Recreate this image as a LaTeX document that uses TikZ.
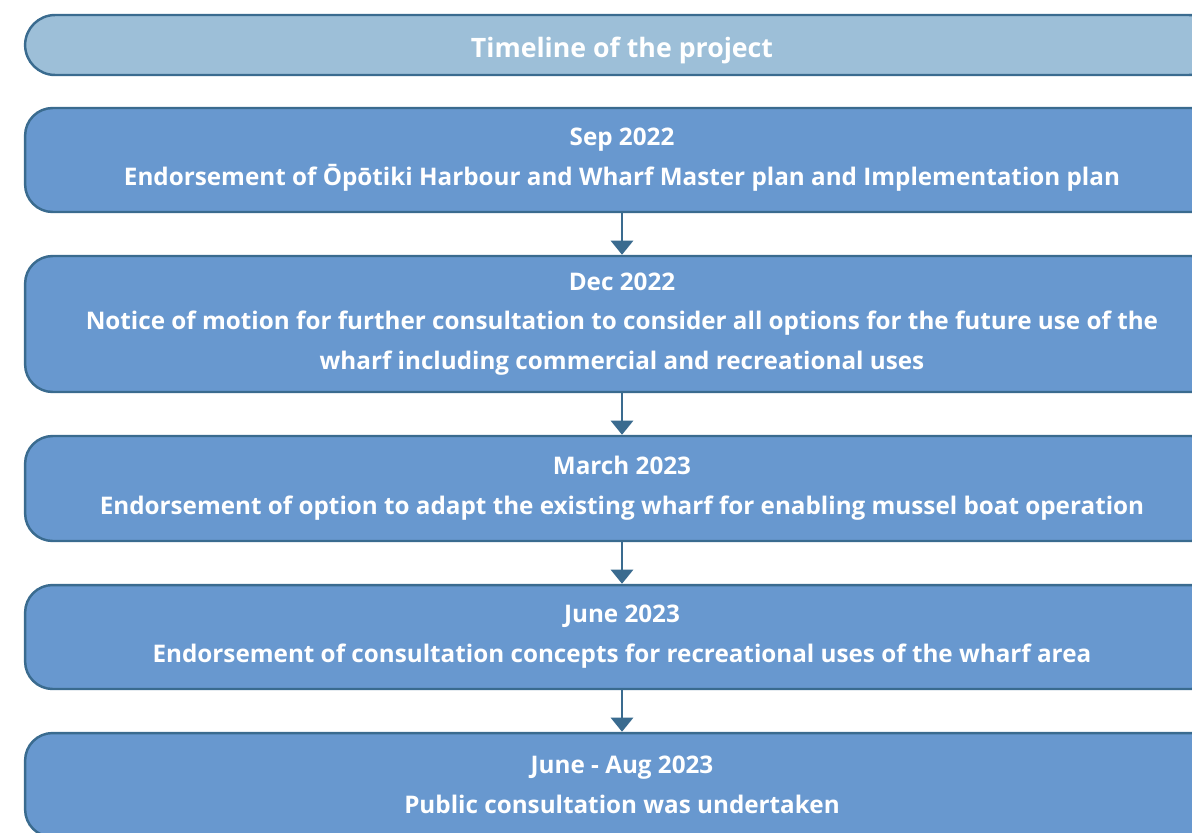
\documentclass[tikz,border=0pt]{standalone}
\usepackage{fontspec}
\setmainfont{Open Sans}
\usetikzlibrary{arrows.meta}
\definecolor{edgeblue}{HTML}{3A6B8F}
\definecolor{stepfill}{HTML}{6898CF}
\definecolor{headfill}{HTML}{9DBFD8}
\begin{document}
\begin{tikzpicture}[x=0.02cm,y=-0.02cm]
        \tikzstyle{stage}=[draw=edgeblue, line width=1.4pt, fill=stepfill, rounded corners=0.55cm, minimum width=23.88cm, inner sep=0pt, text=white, align=center, font=\bfseries\fontsize{13.8}{22.7}\selectfont]
        \tikzstyle{head}=[stage, fill=headfill, rounded corners=0.6cm, font=\bfseries\fontsize{15.2}{18}\selectfont]
        \tikzstyle{link}=[edgeblue, line width=1.6pt, -{Triangle[width=12.5pt,length=8pt]}]
        \useasboundingbox (0,0) rectangle (1192,832);
        \clip (0,0) rectangle (1192,832);
        % title and the five stages
        \node [head, minimum height=1.2cm] (title) at (622,45) {\raisebox{-1.5pt}[11pt][0pt]{Timeline of the project}};
        \node [stage, minimum height=2.08cm] (sep22) at (622,160) {Sep 2022\\Endorsement of Ōpōtiki Harbour and Wharf Master plan and Implementation plan};
        \node [stage, minimum height=2.72cm] (dec22) at (622,324) {Dec 2022\\Notice of motion for further consultation to consider all options for the future use of the\\wharf including commercial and recreational uses};
        \node [stage, minimum height=2.1cm] (mar23) at (622,488.5) {March 2023\\Endorsement of option to adapt the existing wharf for enabling mussel boat operation};
        \node [stage, minimum height=2.08cm] (jun23) at (622,637) {June 2023\\Endorsement of consultation concepts for recreational uses of the wharf area};
        \node [stage, minimum height=2.08cm] (aug23) at (622,785) {June - Aug 2023\\Public consultation was undertaken};
        % arrows between stages
        \draw [link] (sep22) -- (dec22);
        \draw [link] (dec22) -- (mar23);
        \draw [link] (mar23) -- (jun23);
        \draw [link] (jun23) -- (aug23);
\end{tikzpicture}
\end{document}
